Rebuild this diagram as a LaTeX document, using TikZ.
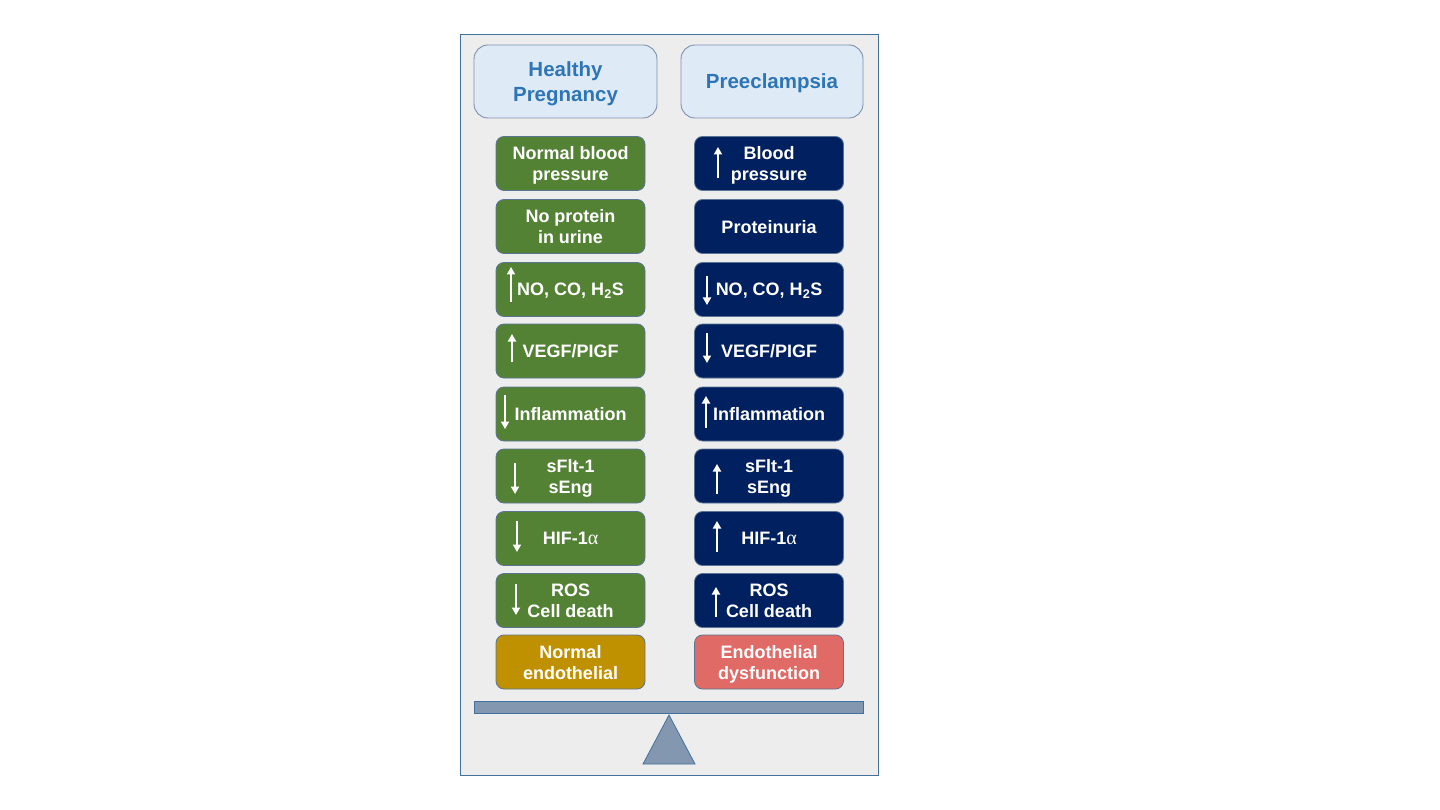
\documentclass[tikz,border=0pt]{standalone}
\usepackage{fontspec}
\setmainfont{Liberation Sans}
\newfontfamily\grk{Liberation Serif}
\usetikzlibrary{arrows.meta}
\definecolor{panelbg}{HTML}{EDEDED}
\definecolor{panelln}{HTML}{41719C}
\definecolor{hdrbg}{HTML}{DEEBF7}
\definecolor{hdrln}{HTML}{7F8FAE}
\definecolor{hdrtx}{HTML}{2E75B6}
\definecolor{grn}{HTML}{548235}
\definecolor{nvy}{HTML}{002060}
\definecolor{gld}{HTML}{BF9000}
\definecolor{rdd}{HTML}{E06A66}
\definecolor{boxln}{HTML}{5A7594}
\definecolor{beam}{HTML}{8497B0}
\tikzset{
  hdr/.style={draw=hdrln, line width=0.9pt, fill=hdrbg, rounded corners=14pt,
    minimum width=183pt, minimum height=73pt, align=center, text=hdrtx,
    text depth=0pt, font=\bfseries\fontsize{20.5}{25.5}\selectfont},
  cbox/.style={draw=boxln, line width=0.8pt, rounded corners=8pt,
    minimum width=149pt, minimum height=54pt, align=center, text=white,
    text depth=0pt, font=\bfseries\fontsize{18}{21}\selectfont},
  gbox/.style={cbox, fill=grn},
  nbox/.style={cbox, fill=nvy},
  wa/.style={draw=white, line width=1.8pt, -{Triangle[width=8pt,length=7.5pt]}}
}
\begin{document}
\begin{tikzpicture}[x=1pt,y=-1pt]
\useasboundingbox (0,0) rectangle (1440,810);
\fill[white] (0,0) rectangle (1440,810);
\draw[panelln, fill=panelbg, line width=1pt] (460,35) rectangle (878,775);
% headers
\node[hdr] (hh) at (565.5,81.5) {Healthy\\Pregnancy};
\node[hdr, minimum width=182pt] (hp) at (772,81.5) {Preeclampsia};
% left column
\node[gbox] (l1) at (570.5,163.5) {Normal blood\\pressure};
\node[gbox] (l2) at (570.5,226.5) {No protein\\in urine};
\node[gbox] (l3) at (570.5,289.5) {NO, CO, H\textsubscript{2}S};
\node[gbox] (l4) at (570.5,351) {VEGF/PIGF};
\node[gbox] (l5) at (570.5,414) {Inflammation};
\node[gbox] (l6) at (570.5,476) {sFlt-1\\sEng};
\node[gbox] (l7) at (570.5,538.5) {HIF-1{\grk\mdseries\fontsize{20}{21}\selectfont α}};
\node[gbox] (l8) at (570.5,600.5) {ROS\\Cell death};
\node[cbox, fill=gld] (l9) at (570.5,662) {Normal\\endothelial};
% right column
\node[nbox] (r1) at (769,163.5) {Blood\\pressure};
\node[nbox] (r2) at (769,226.5) {Proteinuria};
\node[nbox] (r3) at (769,289.5) {NO, CO, H\textsubscript{2}S};
\node[nbox] (r4) at (769,351) {VEGF/PIGF};
\node[nbox] (r5) at (769,414) {Inflammation};
\node[nbox] (r6) at (769,476) {sFlt-1\\sEng};
\node[nbox] (r7) at (769,538.5) {HIF-1{\grk\mdseries\fontsize{20}{21}\selectfont α}};
\node[nbox] (r8) at (769,600.5) {ROS\\Cell death};
\node[cbox, fill=rdd] (r9) at (769,662) {Endothelial\\dysfunction};
% arrows
\draw[wa] (718,178) -- (718,147);
\draw[wa] (511,302) -- (511,267);
\draw[wa] (707,276) -- (707,305);
\draw[wa] (512,362) -- (512,334);
\draw[wa] (707,333) -- (707,363);
\draw[wa] (505,395) -- (505,429);
\draw[wa] (706,428) -- (706,396);
\draw[wa] (515,463) -- (515,494);
\draw[wa] (717,494) -- (717,464);
\draw[wa] (517,521) -- (517,552);
\draw[wa] (717,552) -- (717,521);
\draw[wa] (516,584) -- (516,615);
\draw[wa] (716,617) -- (716,587);
% balance
\draw[panelln, fill=beam, line width=0.8pt] (474,701) rectangle (863,713);
\draw[panelln, fill=beam, line width=0.8pt] (669,715) -- (695,764) -- (643,764) -- cycle;
\end{tikzpicture}
\end{document}
